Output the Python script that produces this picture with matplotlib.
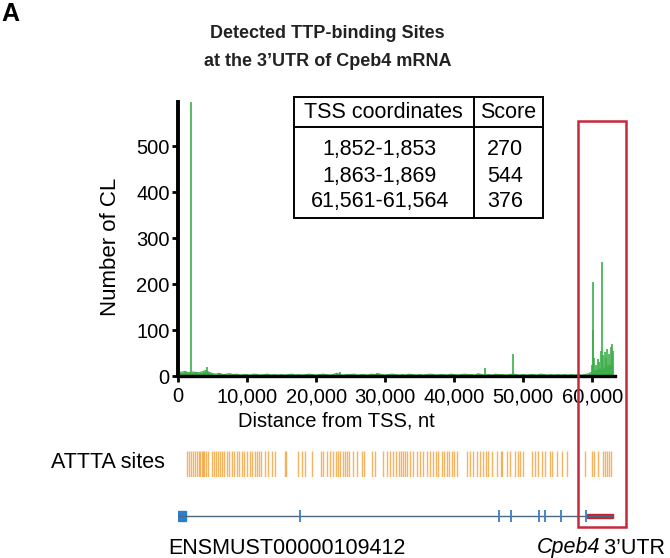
import numpy as np
import matplotlib
matplotlib.use('Agg')
from matplotlib import pyplot as plt
from matplotlib import transforms as mtrans
from matplotlib.patches import Rectangle

plt.rcParams['font.family'] = ['Liberation Sans', 'DejaVu Sans']

# CL counts along the transcript (low background, 500 nt grid)
base_pos = np.arange(0, 63500, 500)
base_cl = [9, 8, 10, 7, 9, 8, 7, 9, 12, 8,
           5, 4, 6, 3, 4, 5, 3, 4, 2, 3,
           3, 2, 4, 3, 2, 3, 4, 2, 3, 2,
           3, 2, 3, 4, 2, 3, 2, 3, 4, 3,
           2, 3, 4, 3, 2, 3, 6, 3, 2, 3,
           3, 4, 2, 3, 3, 2, 4, 3, 5, 3,
           2, 3, 4, 3, 2, 3, 2, 4, 3, 2,
           3, 2, 3, 4, 3, 2, 3, 3, 2, 4,
           3, 2, 3, 4, 3, 3, 2, 5, 3, 2,
           3, 2, 4, 3, 3, 2, 3, 4, 3, 2,
           3, 2, 3, 3, 2, 4, 3, 2, 3, 2,
           3, 2, 3, 2, 3, 2, 3, 2, 3, 5,
           9, 12, 15, 14, 20, 24, 18]

# sharp CL peaks
peak_pos = [1860, 4200, 23500, 28800, 44500, 48500,
            59900, 60050, 60150, 60250, 60500, 60800, 61000, 61300, 61450, 61600,
            61800, 62000, 62200, 62500, 62700, 62850, 63000]
peak_cl = [620, 20, 9, 7, 17, 48,
           25, 100, 204, 40, 25, 38, 30, 55, 248, 45,
           52, 40, 58, 48, 62, 70, 55]

# TTP binding sites table
tss_coords = ['1,852-1,853', '1,863-1,869', '61,561-61,564']
scores = ['270', '544', '376']

# ATTTA motif positions (nt)
attta_pos = [1305, 1595, 1885, 2175, 2465, 2755, 3045, 3190, 3480, 3625,
             3770, 4060, 4350, 4930, 5220, 5510, 5800, 6090, 6380, 6670, 7105, 7395,
             7830, 8120, 8555, 8845, 9280, 9570, 10005, 10440,
             10730, 11165, 11455, 11745, 12035, 12615, 13050, 13630, 14065,
             15515, 15600, 17400, 17980, 18415, 19430, 20735,
             21025, 21605, 22040, 22475, 22910, 23200, 23490, 23925, 24215, 24505,
             24795, 25375, 25955, 26680, 26970, 28130, 28565, 29725, 30305, 30740,
             31175, 31610, 32045, 32335, 32625, 32915, 33205, 33640, 34075, 34655,
             35090, 35525, 36105, 36540, 36975, 37410, 37700, 38280, 38570, 39005,
             39295, 39730, 40020, 40455, 41905,
             42340, 42775, 43355, 43790, 44225, 44660, 44950, 45530, 46255, 46835,
             46980, 47705, 48140, 48865, 49300, 49590, 50025, 51330, 51765, 52200,
             52780, 53215, 53940, 54230, 54955, 55680, 56405, 59015,
             60030, 60320, 60900, 61625, 61915, 62205, 62495, 62785]

# gene model
exon_pos = [17700, 46500, 48300, 52350, 53200, 55500, 59150]
first_exon = (0, 1160)
utr = (59300, 62950)
gene_end = 62950

xmax = 63300
green = '#3dae49'

fig = plt.figure(figsize=(6.7, 5.58), dpi=100)

ax = fig.add_axes([178/670, 1 - 376/558, 437/670, 274/558])
ax.fill_between(base_pos, base_cl, color=green, lw=0)
ax.plot(base_pos, base_cl, color=green, lw=0.8)
ax.vlines(peak_pos, 0, peak_cl, color=green, lw=1.2)
ax.set_xlim(0, xmax)
ax.set_ylim(0, 596)
ax.set_yticks([0, 100, 200, 300, 400, 500])
ax.set_xticks([0, 10000, 20000, 30000, 40000, 50000, 60000])
ax.set_xticklabels(['0', '10,000', '20,000', '30,000', '40,000', '50,000', '60,000'])
for s in ['top', 'right']:
    ax.spines[s].set_visible(False)
ax.spines['left'].set_linewidth(2.8)
ax.spines['bottom'].set_linewidth(2.4)
ax.tick_params(axis='both', direction='out', length=4, width=2, labelsize=14.5, colors='black')
ax.tick_params(axis='y', pad=2)
ax.tick_params(axis='x', pad=4)
ax.set_ylabel('Number of CL', fontsize=16)
ax.yaxis.set_label_coords(-0.13, 0.47)
ax.set_xlabel('Distance from TSS, nt', fontsize=14.5)
ax.xaxis.set_label_coords(0.362, -0.13)

# table
tkw = dict(transform=ax.transAxes, clip_on=False)
ax.add_patch(Rectangle((0.265, 0.577), 0.57, 0.441, fill=False, lw=1.4, ec='black', **tkw))
ax.plot([0.265, 0.835], [0.909, 0.909], color='black', lw=1.4, **tkw)
ax.plot([0.677, 0.677], [0.577, 1.018], color='black', lw=1.4, **tkw)
ax.text(0.471, 0.962, 'TSS coordinates', ha='center', va='center', fontsize=15.5, transform=ax.transAxes)
ax.text(0.756, 0.962, 'Score', ha='center', va='center', fontsize=15.5, transform=ax.transAxes)
for i, (c, s) in enumerate(zip(tss_coords, scores)):
    yy = [0.828, 0.728, 0.637][i]
    ax.text(0.462, yy, c, ha='center', va='center', fontsize=15.5, transform=ax.transAxes)
    ax.text(0.748, yy, s, ha='center', va='center', fontsize=15.5, transform=ax.transAxes)

# ATTTA sites
ax2 = fig.add_axes([178/670, 1 - 477/558, 437/670, 26/558])
ax2.vlines(attta_pos, 0, 1, color='#f39a2b', lw=1.0, alpha=0.75)
ax2.set_xlim(0, xmax)
ax2.set_ylim(0, 1)
ax2.axis('off')
fig.text(165/670, 1 - 463/558, 'ATTTA sites', ha='right', va='center', fontsize=15.5)

# gene model
ax3 = fig.add_axes([178/670, 1 - 526/558, 437/670, 20/558])
ax3.plot([0, gene_end], [0, 0], color='#4a6780', lw=1)
ax3.vlines(exon_pos, -0.6, 0.6, color='#3a7fc0', lw=1.3)
ax3.add_patch(Rectangle((first_exon[0], -0.5), first_exon[1] - first_exon[0], 1.0, color='#2a7fcc'))
ax3.add_patch(Rectangle((utr[0], -0.22), utr[1] - utr[0], 0.44, color='#c82333'))
ax3.set_xlim(0, xmax)
ax3.set_ylim(-1, 1)
ax3.axis('off')

fig.text(287/670, 1 - 548/558, 'ENSMUST00000109412', ha='center', va='center', fontsize=15.5)
t1 = fig.text(537/670, 1 - 548/558, 'Cpeb4', ha='left', va='center', fontsize=15.5, fontstyle='italic')
ax.annotate("\u20093\u2019UTR", xy=(1, 0.5), xycoords=t1, ha='left', va='center',
            fontsize=15.5, annotation_clip=False)

# red box around the 3'UTR
btr = mtrans.blended_transform_factory(ax.transData, fig.transFigure)
fig.patches.append(Rectangle((58000, 1 - 527/558), 6950, (527 - 121)/558, fill=False,
                             ec='#c8283c', lw=1.8, transform=btr, figure=fig))

# titles
fig.text(327/670, 1 - 33/558, 'Detected TTP-binding Sites', ha='center', va='center',
         fontsize=13, fontweight='bold', color='#222222')
fig.text(328/670, 1 - 61/558, 'at the 3\u2019UTR of Cpeb4 mRNA', ha='center', va='center',
         fontsize=13, fontweight='bold', color='#222222')
fig.text(1/670, 1 - 14/558, 'A', ha='left', va='center', fontsize=18, fontweight='bold')

plt.savefig('out.png', dpi=100)
